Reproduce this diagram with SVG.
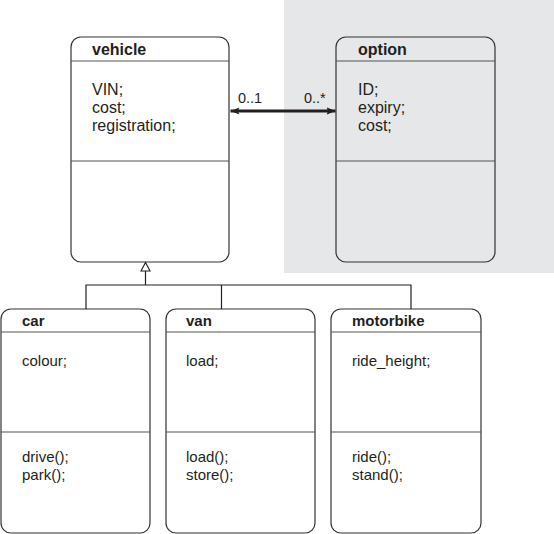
<svg xmlns="http://www.w3.org/2000/svg" width="554" height="534" viewBox="0 0 554 534">
<defs>
<style>
.box{fill:#fff;stroke:#333;stroke-width:1.2}
.opt{fill:#e6e7e8;stroke:#333;stroke-width:1.2}
.sep{stroke:#555;stroke-width:1.2}
.t{font-family:"Liberation Sans",Arial,sans-serif;font-size:16px;font-weight:bold;fill:#231f20}
.a{font-family:"Liberation Sans",Arial,sans-serif;font-size:16px;fill:#231f20}
.t2{font-family:"Liberation Sans",Arial,sans-serif;font-size:15px;font-weight:bold;fill:#231f20}
.a2{font-family:"Liberation Sans",Arial,sans-serif;font-size:15px;fill:#231f20}
.l{font-family:"Liberation Sans",Arial,sans-serif;font-size:14.5px;fill:#231f20}
.c{stroke:#231f20;stroke-width:1.2;fill:none}
</style>
<marker id="ah" viewBox="0 0 10 8" refX="10" refY="4" markerWidth="3" markerHeight="2.4" orient="auto-start-reverse" markerUnits="strokeWidth">
<path d="M0,0 L10,4 L0,8 L2,4 Z" fill="#231f20"/>
</marker>
</defs>
<rect x="284" y="0" width="270" height="273" fill="#e6e7e8"/>
<g id="vehicle">
<rect class="box" x="71" y="37" width="158" height="225" rx="10"/>
<line class="sep" x1="71" y1="61" x2="229" y2="61"/>
<line class="sep" x1="71" y1="161" x2="229" y2="161"/>
<text class="t" x="92" y="55">vehicle</text>
<text class="a" x="92" y="95">VIN;</text>
<text class="a" x="92" y="113">cost;</text>
<text class="a" x="92" y="131">registration;</text>
</g>
<g id="option">
<rect class="opt" x="336" y="37" width="159" height="225" rx="10"/>
<line class="sep" x1="336" y1="61" x2="495" y2="61"/>
<line class="sep" x1="336" y1="161" x2="495" y2="161"/>
<text class="t" x="358" y="55">option</text>
<text class="a" x="358" y="95">ID;</text>
<text class="a" x="358" y="113">expiry;</text>
<text class="a" x="358" y="131">cost;</text>
</g>
<g id="car">
<rect class="box" x="1" y="309" width="149" height="224" rx="10"/>
<line class="sep" x1="1" y1="332" x2="150" y2="332"/>
<line class="sep" x1="1" y1="432" x2="150" y2="432"/>
<text class="t2" x="22" y="326">car</text>
<text class="a2" x="22" y="366">colour;</text>
<text class="a2" x="22" y="462">drive();</text>
<text class="a2" x="22" y="480">park();</text>
</g>
<g id="van">
<rect class="box" x="166" y="309" width="149" height="224" rx="10"/>
<line class="sep" x1="166" y1="332" x2="315" y2="332"/>
<line class="sep" x1="166" y1="432" x2="315" y2="432"/>
<text class="t2" x="186" y="326">van</text>
<text class="a2" x="186" y="366">load;</text>
<text class="a2" x="186" y="462">load();</text>
<text class="a2" x="186" y="480">store();</text>
</g>
<g id="motorbike">
<rect class="box" x="331" y="309" width="150" height="224" rx="10"/>
<line class="sep" x1="331" y1="332" x2="481" y2="332"/>
<line class="sep" x1="331" y1="432" x2="481" y2="432"/>
<text class="t2" x="352" y="326">motorbike</text>
<text class="a2" x="352" y="366">ride_height;</text>
<text class="a2" x="352" y="462">ride();</text>
<text class="a2" x="352" y="480">stand();</text>
</g>
<g id="connectors">
<line x1="230.5" y1="111" x2="335.5" y2="111" stroke="#231f20" stroke-width="3" marker-start="url(#ah)" marker-end="url(#ah)"/>
<text class="l" x="238" y="103">0..1</text>
<text class="l" x="304" y="103">0..*</text>
<path class="c" d="M86,309 V285 H411 V309 M221.5,285 V309 M145.5,285 V271"/>
<path d="M145.5,262.5 L141,271 L150,271 Z" fill="#fff" stroke="#231f20" stroke-width="1.1"/>
</g>
</svg>
